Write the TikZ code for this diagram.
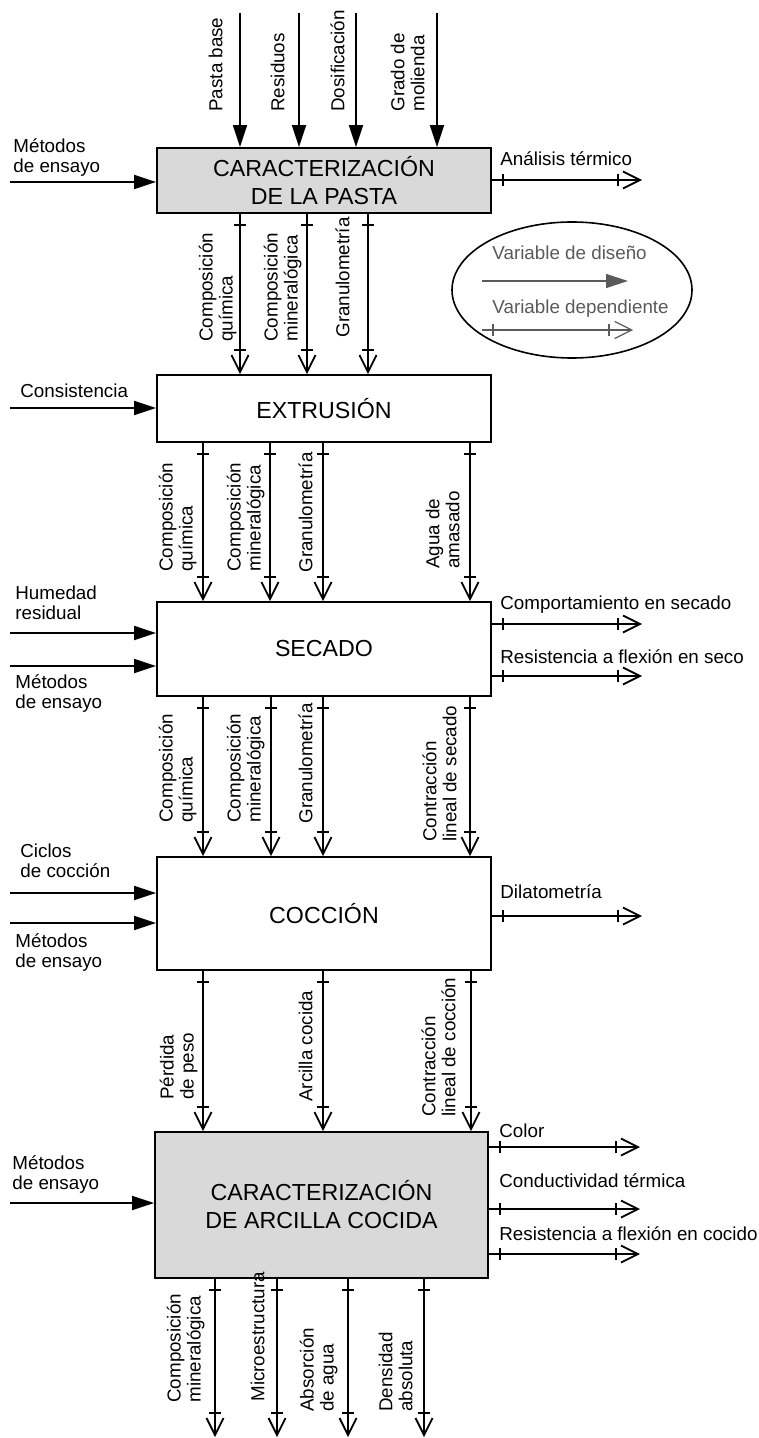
\documentclass[tikz,border=0pt]{standalone}
\usepackage{fontspec}
\setmainfont{Liberation Sans}
\usetikzlibrary{arrows.meta,calc,shapes.geometric}
\definecolor{boxgray}{RGB}{217,217,217}
\definecolor{leggray}{RGB}{90,90,90}
\newcommand\lblfont{\fontsize{9.4}{10}\selectfont}
\newcommand\boxfont{\fontsize{11.6}{14}\selectfont}
% dependent variable: open head plus two cross ticks
\newcommand\depdown[3][]{%
  \draw[dep,#1] #2 -- #3;
  \draw[tk,#1] ($#2+(-6,11)$) -- ++(12,0);
  \draw[tk,#1] ($#3+(-6,-24)$) -- ++(12,0);}
\newcommand\depright[3][]{%
  \draw[dep,#1] #2 -- #3;
  \draw[tk,#1] ($#2+(11,-6)$) -- ++(0,12);
  \draw[tk,#1] ($#3+(-24,-6)$) -- ++(0,12);}
\begin{document}
\begin{tikzpicture}[x=0.5pt,y=-0.5pt,
  box/.style={draw, line width=0.9pt, inner sep=0pt, align=center, font=\boxfont},
  wh/.style 2 args={minimum width=#1*0.5pt, minimum height=#2*0.5pt},
  des/.style={line width=0.9pt, -{Triangle[length=11pt,width=7pt]}},
  dep/.style={line width=0.9pt, -{Straight Barb[length=8.5pt,width=8.5pt]}},
  tk/.style={line width=0.9pt},
  lab/.style={inner sep=0pt, align=left, font=\lblfont, anchor=base west},
  lab2/.style={inner sep=0pt, align=left, font=\lblfont, anchor=south west},
  vlab/.style={inner sep=0pt, align=left, font=\lblfont, rotate=90, anchor=south west}]
\useasboundingbox (0,0) rectangle (759,1438);

% process boxes
\node[box, fill=boxgray, wh={334}{65}] (b1) at (324,180.5) {CARACTERIZACIÓN\\DE LA PASTA};
\node[box, wh={334}{67}] (b2) at (324,408.5) {EXTRUSIÓN};
\node[box, wh={334}{94}] (b3) at (324,649) {SECADO};
\node[box, wh={334}{113}] (b4) at (324,913.5) {COCCIÓN};
\node[box, fill=boxgray, wh={333}{146}] (b5) at (321.5,1205) {CARACTERIZACIÓN\\DE ARCILLA COCIDA};

% legend
\node[draw, ellipse, line width=0.8pt, inner sep=0pt, wh={240}{136}] (leg) at (572,290) {};
\node[lab, text=leggray] (lg1) at (492,260) {Variable de diseño};
\coordinate (ga) at (482,281); \coordinate (gb) at (628,281);
\draw[des, leggray, line width=0.6pt] (ga) -- (gb);
\node[lab, text=leggray] (lg2) at (492,314) {Variable dependiente};
\coordinate (gc) at (482,330); \coordinate (gd) at (633,330);
\depright[leggray, line width=0.6pt]{(gc)}{(gd)}

% inputs to paste characterisation
\coordinate (t1) at (240,13); \coordinate (t2) at (299,13);
\coordinate (t3) at (356,13); \coordinate (t4) at (437,13);
\foreach \p in {t1,t2,t3,t4} \draw[des] (\p) -- (\p |- b1.north);
\node[vlab] (lt1) at (223,112) {Pasta base};
\node[vlab] (lt2) at (285,112) {Residuos};
\node[vlab] (lt3) at (345,112) {Dosificación};
\node[vlab] (lt4) at (425,112) {Grado de\\molienda};
\coordinate (m1) at (10,182);
\draw[des] (m1) -- (m1 -| b1.west);
\node[lab2] (lm1) at (13,177) {Métodos\\de ensayo};
\coordinate (r1) at (642,180);
\depright{(b1.east |- r1)}{(r1)}
\node[lab] (lr1) at (500,166) {Análisis térmico};

% paste -> extrusion
\coordinate (a1) at (240,0); \coordinate (a2) at (307,0); \coordinate (a3) at (368,0);
\foreach \p in {a1,a2,a3} {\depdown{(\p |- b1.south)}{(\p |- b2.north)}}
\node[vlab] (la1) at (237,342) {Composición\\química};
\node[vlab] (la2) at (302,342) {Composición\\mineralógica};
\node[vlab] (la3) at (350,338) {Granulometría};
\coordinate (m2) at (10,408);
\draw[des] (m2) -- (m2 -| b2.west);
\node[lab] (lm2) at (20,398) {Consistencia};

% extrusion -> drying
\coordinate (e1) at (203,0); \coordinate (e2) at (270,0);
\coordinate (e3) at (323,0); \coordinate (e4) at (470,0);
\foreach \p in {e1,e2,e3,e4} {\depdown{(\p |- b2.south)}{(\p |- b3.north)}}
\node[vlab] (le1) at (197,572) {Composición\\química};
\node[vlab] (le2) at (265,572) {Composición\\mineralógica};
\node[vlab] (le3) at (313,573) {Granulometría};
\node[vlab] (le4) at (460,569) {Agua de\\amasado};

% drying
\coordinate (m3) at (10,633); \coordinate (m4) at (10,666);
\draw[des] (m3) -- (m3 -| b3.west);
\draw[des] (m4) -- (m4 -| b3.west);
\node[lab2] (lm3) at (15,620) {Humedad\\residual};
\node[lab2] (lm4) at (15,713) {Métodos\\de ensayo};
\coordinate (r2) at (642,624); \coordinate (r3) at (642,676);
\depright{(b3.east |- r2)}{(r2)}
\depright{(b3.east |- r3)}{(r3)}
\node[lab] (lr2) at (500,609) {Comportamiento en secado};
\node[lab] (lr3) at (500,663) {Resistencia a flexión en seco};

% drying -> firing
\coordinate (s1) at (203,0); \coordinate (s2) at (271,0);
\coordinate (s3) at (323,0); \coordinate (s4) at (470,0);
\foreach \p in {s1,s2,s3,s4} {\depdown{(\p |- b3.south)}{(\p |- b4.north)}}
\node[vlab] (ls1) at (197,823) {Composición\\química};
\node[vlab] (ls2) at (265,823) {Composición\\mineralógica};
\node[vlab] (ls3) at (313,824) {Granulometría};
\node[vlab] (ls4) at (457,842) {Contracción\\lineal de secado};

% firing
\coordinate (m5) at (10,893); \coordinate (m6) at (10,923);
\draw[des] (m5) -- (m5 -| b4.west);
\draw[des] (m6) -- (m6 -| b4.west);
\node[lab2] (lm5) at (20,878) {Ciclos\\de cocción};
\node[lab2] (lm6) at (15,972) {Métodos\\de ensayo};
\coordinate (r4) at (642,916);
\depright{(b4.east |- r4)}{(r4)}
\node[lab] (lr4) at (500,898) {Dilatometría};

% firing -> fired clay characterisation
\coordinate (c1) at (203,0); \coordinate (c2) at (323,0); \coordinate (c3) at (471,0);
\foreach \p in {c1,c2,c3} {\depdown{(\p |- b4.south)}{(\p |- b5.north)}}
\node[vlab] (lc1) at (198,1100) {Pérdida\\de peso};
\node[vlab] (lc2) at (313,1102) {Arcilla cocida};
\node[vlab] (lc3) at (456,1117) {Contracción\\lineal de cocción};

% fired clay characterisation
\coordinate (m7) at (10,1203);
\draw[des] (m7) -- (m7 -| b5.west);
\node[lab2] (lm7) at (12,1194) {Métodos\\de ensayo};
\coordinate (r5) at (640,1147); \coordinate (r6) at (640,1209); \coordinate (r7) at (640,1254);
\depright{(b5.east |- r5)}{(r5)}
\depright{(b5.east |- r6)}{(r6)}
\depright{(b5.east |- r7)}{(r7)}
\node[lab] (lr5) at (499,1137) {Color};
\node[lab] (lr6) at (499,1187) {Conductividad térmica};
\node[lab] (lr7) at (499,1240) {Resistencia a flexión en cocido};

% outputs
\coordinate (o1) at (215,1437); \coordinate (o2) at (277,1437);
\coordinate (o3) at (348,1437); \coordinate (o4) at (424,1437);
\foreach \p in {o1,o2,o3,o4} {\depdown{(\p |- b5.south)}{(\p)}}
\node[vlab] (lo1) at (205,1403) {Composición\\mineralógica};
\node[vlab] (lo2) at (265,1402) {Microestructura};
\node[vlab] (lo3) at (338,1412) {Absorción\\de agua};
\node[vlab] (lo4) at (413,1412) {Densidad\\absoluta};
\end{tikzpicture}
\end{document}
